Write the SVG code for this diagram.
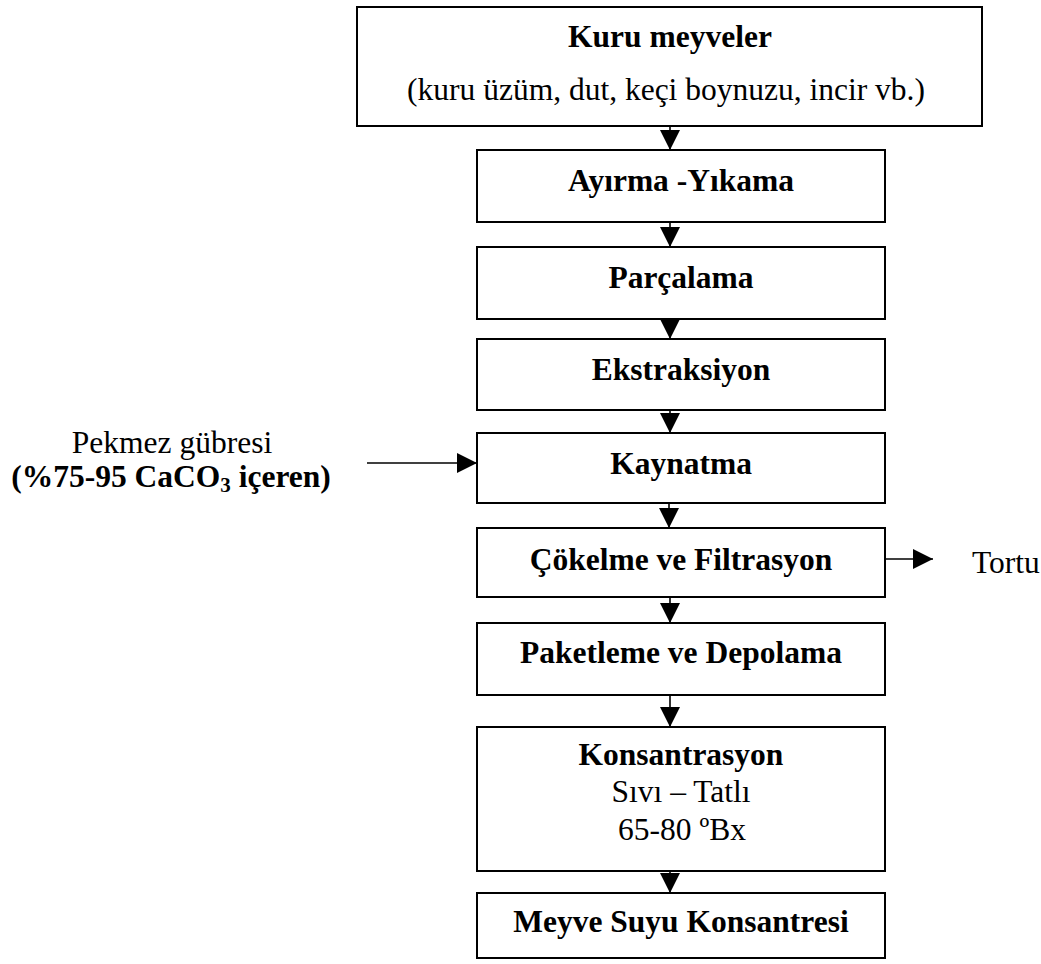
<svg xmlns="http://www.w3.org/2000/svg" width="1041" height="964" viewBox="0 0 1041 964">
<style>
.box{fill:#fff;stroke:#000;stroke-width:2}
.t{font-family:"Liberation Serif","Times New Roman",serif;font-size:31.5px;fill:#000}
.b{font-weight:bold}
.c{text-anchor:middle}
.con{stroke:#000;stroke-width:1.6;fill:none;marker-end:url(#ah)}
</style>
<defs>
<marker id="ah" viewBox="0 0 20 20" refX="20" refY="10" markerWidth="20" markerHeight="20" markerUnits="userSpaceOnUse" orient="auto">
<path d="M0,0 L20,10 L0,20 Z" fill="#000"/>
</marker>
</defs>
<rect width="1041" height="964" fill="#fff"/>
<g id="n-kuru">
<rect class="box" x="357" y="7" width="625" height="119"/>
<text class="t b c" x="670" y="47">Kuru meyveler</text>
<text class="t c" x="666" y="100">(kuru üzüm, dut, keçi boynuzu, incir vb.)</text>
</g>
<g id="n-ayirma">
<rect class="box" x="477" y="150" width="408" height="72"/>
<text class="t b c" x="681" y="191">Ayırma -Yıkama</text>
</g>
<g id="n-parcalama">
<rect class="box" x="477" y="247" width="408" height="72"/>
<text class="t b c" x="681" y="288">Parçalama</text>
</g>
<g id="n-ekstraksiyon">
<rect class="box" x="477" y="339" width="408" height="71"/>
<text class="t b c" x="681" y="380">Ekstraksiyon</text>
</g>
<g id="n-kaynatma">
<rect class="box" x="477" y="433" width="408" height="70"/>
<text class="t b c" x="681" y="474">Kaynatma</text>
</g>
<g id="n-cokelme">
<rect class="box" x="477" y="528" width="408" height="69"/>
<text class="t b c" x="681" y="570">Çökelme ve Filtrasyon</text>
</g>
<g id="n-paketleme">
<rect class="box" x="477" y="623" width="408" height="72"/>
<text class="t b c" x="681" y="663">Paketleme ve Depolama</text>
</g>
<g id="n-konsantrasyon">
<rect class="box" x="477" y="727" width="408" height="144"/>
<text class="t b c" x="681" y="765">Konsantrasyon</text>
<text class="t c" x="681" y="802">Sıvı – Tatlı</text>
<text class="t c" x="682" y="840">65-80 ºBx</text>
</g>
<g id="n-meyvesuyu">
<rect class="box" x="477" y="893" width="408" height="65"/>
<text class="t b c" x="681" y="932">Meyve Suyu Konsantresi</text>
</g>
<g id="n-pekmez">
<text class="t c" x="172" y="453">Pekmez gübresi</text>
<text class="t b c" x="171" y="487">(%75-95 CaCO<tspan font-size="21" dy="5">3</tspan><tspan dy="-5"> içeren)</tspan></text>
</g>
<g id="n-tortu">
<text class="t" x="972" y="573">Tortu</text>
</g>
<g id="connectors">
<line class="con" x1="670" y1="126" x2="670" y2="150"/>
<line class="con" x1="670" y1="222" x2="670" y2="247"/>
<line class="con" x1="670" y1="319" x2="670" y2="339"/>
<line class="con" x1="670" y1="410" x2="670" y2="433"/>
<line class="con" x1="669" y1="503" x2="669" y2="528"/>
<line class="con" x1="670" y1="597" x2="670" y2="623"/>
<line class="con" x1="670" y1="695" x2="670" y2="727"/>
<line class="con" x1="670" y1="871" x2="670" y2="893"/>
<line class="con" x1="367" y1="463" x2="477" y2="463"/>
<line class="con" x1="885" y1="559" x2="933" y2="559"/>
</g>
</svg>
